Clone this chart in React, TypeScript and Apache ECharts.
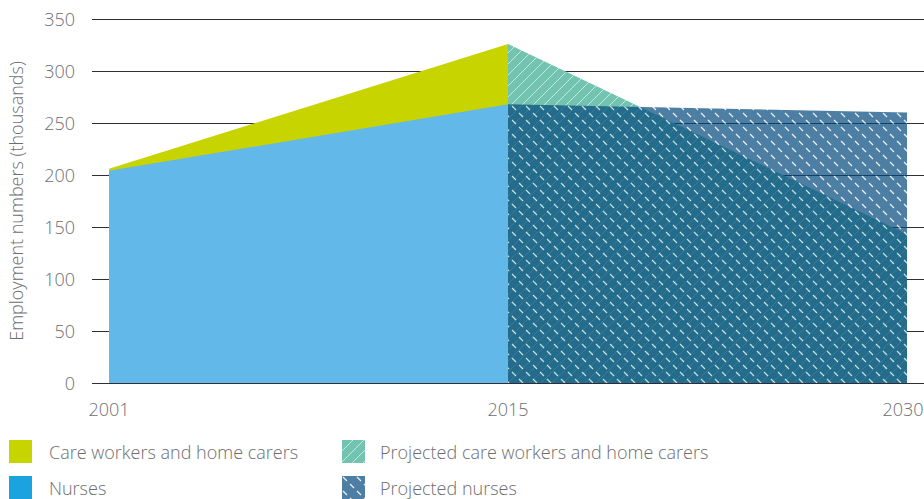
import React, { useEffect, useRef } from "react";
import * as echarts from "echarts";

const years = ["2001", "2015", "2030"];
const careWorkers: (number | null)[] = [206, 326, null];
const nurses: (number | null)[] = [204, 268, null];
const projectedCareWorkers: (number | null)[] = [null, 326, 143];
const projectedNurses: (number | null)[] = [null, 268, 260];
const seriesNames = [
  "Care workers and home carers",
  "Nurses",
  "Projected care workers and home carers",
  "Projected nurses",
];
const yMin = 0;
const yMax = 350;
const yInterval = 50;
const yAxisTitle = "Employment numbers (thousands)";

const FONT = "'Open Sans', 'Noto Sans', sans-serif";
const TEXT = "#6d6e70";
const GRID = "#2f2f33";

function makeTile(size: number, bg: string, draw: (ctx: CanvasRenderingContext2D) => void) {
  const c = document.createElement("canvas");
  c.width = size;
  c.height = size;
  const ctx = c.getContext("2d")!;
  ctx.fillStyle = bg;
  ctx.fillRect(0, 0, size, size);
  draw(ctx);
  return { image: c.toDataURL(), repeat: "repeat", imageWidth: size, imageHeight: size } as any;
}

function slashTile(bg: string) {
  return makeTile(11, bg, (ctx) => {
    ctx.strokeStyle = "rgba(255,255,255,0.6)";
    ctx.lineWidth = 1;
    ctx.beginPath();
    ctx.moveTo(-1, 12);
    ctx.lineTo(12, -1);
    ctx.moveTo(-1, 1);
    ctx.lineTo(1, -1);
    ctx.moveTo(10, 12);
    ctx.lineTo(12, 10);
    ctx.stroke();
  });
}

function dashTile(bg: string) {
  return makeTile(14, bg, (ctx) => {
    ctx.strokeStyle = "rgba(255,255,255,0.9)";
    ctx.lineWidth = 1.2;
    ctx.beginPath();
    ctx.moveTo(1, 1);
    ctx.lineTo(5, 5);
    ctx.moveTo(8, 8);
    ctx.lineTo(12, 12);
    ctx.stroke();
  });
}

export default function App() {
  const ref = useRef<HTMLDivElement>(null);
  useEffect(() => {
    if (!ref.current) return;
    const chart = echarts.init(ref.current, undefined, { renderer: "svg" });
    const tealPattern = slashTile("#72c4b1");
    const navyPattern = dashTile("rgb(2,71,125)");
    const legendNavyPattern = dashTile("rgb(78,126,164)");

    const areaSeries = (name: string, data: (number | null)[], fill: any, color: string, opacity = 1, z = 2) => ({
      name,
      type: "line",
      data,
      showSymbol: false,
      symbol: "none",
      lineStyle: { width: 0 },
      itemStyle: { color },
      areaStyle: { color: fill, opacity },
      z,
      silent: true,
    });

    const legendText = { fontFamily: FONT, fontSize: 18, color: TEXT, fontWeight: 300 };
    const xData = years.map((y, i) =>
      i === years.length - 1 ? { value: y, textStyle: { padding: [0, 8, 0, 0] } } : y
    );

    chart.setOption({
      animation: false,
      grid: { left: 109, right: 17, top: 19, bottom: 116, outerBoundsMode: "none", containLabel: false },
      xAxis: {
        type: "category",
        data: xData,
        boundaryGap: false,
        axisLine: { show: false },
        axisTick: { show: false },
        splitLine: { show: false },
        axisLabel: { color: TEXT, fontSize: 18, fontFamily: FONT, margin: 17, fontWeight: 300 },
      },
      yAxis: [
        {
          type: "value",
          min: yMin,
          max: yMax,
          interval: yInterval,
          name: yAxisTitle,
          nameLocation: "middle",
          nameGap: 84,
          nameTextStyle: { color: TEXT, fontSize: 18, fontFamily: FONT, fontWeight: 300 },
          axisLine: { show: false },
          axisTick: { show: true, inside: false, length: 17, lineStyle: { color: GRID, width: 1 } },
          splitLine: { show: true, lineStyle: { color: GRID, width: 1 } },
          axisLabel: { color: TEXT, fontSize: 18, fontFamily: FONT, margin: 34, fontWeight: 300 },
        },
        {
          type: "value",
          position: "right",
          min: yMin,
          max: yMax,
          interval: yInterval,
          axisLine: { show: false },
          axisTick: { show: true, inside: false, length: 17, lineStyle: { color: GRID, width: 1 } },
          splitLine: { show: false },
          axisLabel: { show: false },
        },
      ],
      legend: [
        {
          left: 9,
          top: 440,
          height: 120,
          padding: 0,
          orient: "vertical",
          icon: "rect",
          itemWidth: 23,
          itemHeight: 23,
          itemGap: 13,
          selectedMode: false,
          textStyle: { ...legendText, padding: [0, 0, 0, 12] },
          data: [
            { name: seriesNames[0], itemStyle: { color: "#c8d400", borderWidth: 0 } },
            { name: seriesNames[1], itemStyle: { color: "#1aa3de", borderWidth: 0 } },
          ],
        },
        {
          left: 342,
          top: 440,
          height: 120,
          padding: 0,
          orient: "vertical",
          icon: "rect",
          itemWidth: 23,
          itemHeight: 23,
          itemGap: 13,
          selectedMode: false,
          textStyle: { ...legendText, padding: [0, 0, 0, 10] },
          data: [
            { name: seriesNames[2], itemStyle: { color: tealPattern, borderWidth: 0 } },
            { name: seriesNames[3], itemStyle: { color: legendNavyPattern, borderWidth: 0 } },
          ],
        },
      ],
      series: [
        areaSeries(seriesNames[0], careWorkers, "#c8d400", "#c8d400", 1, 2),
        areaSeries(seriesNames[1], nurses, "#62b8e8", "#1aa3de", 1, 3),
        areaSeries(seriesNames[2], projectedCareWorkers, tealPattern, "#72c4b1", 1, 4),
        areaSeries(seriesNames[3], projectedNurses, navyPattern, "#4e7ea4", 0.7, 5),
      ],
    });
    return () => chart.dispose();
  }, []);

  return (
    <div
      ref={ref}
      style={{ position: "fixed", left: 0, top: 0, width: 924, height: 499, background: "#fff" }}
    />
  );
}
